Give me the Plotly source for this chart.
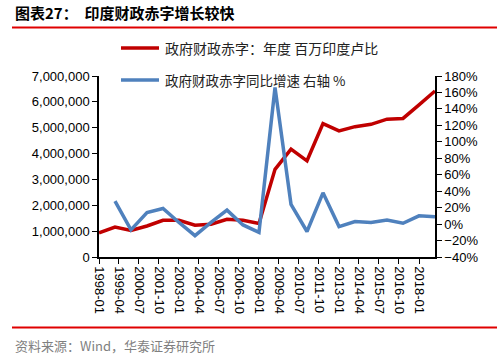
import plotly.graph_objects as go

years = [f"{y}-01-01" for y in range(1998, 2020)]
deficit = [930000, 1160000, 1030000, 1200000, 1420000, 1420000, 1230000, 1270000,
           1460000, 1420000, 1300000, 3390000, 4170000, 3720000, 5160000, 4880000,
           5040000, 5130000, 5330000, 5360000, 5880000, 6420000]
growth = [None, 28, -7, 14, 19, 2, -14, 2, 17, -1, -10, 166, 24, -9, 38, -3,
          3, 2, 5, 1, 10, 9]

name_red = "政府财政赤字：年度 百万印度卢比"
name_blue = "政府财政赤字同比增速 右轴 %"

RED = "#C00000"
BLUE = "#4F81BD"
fnum = "Liberation Sans, Arial, sans-serif"
fcjk = "Noto Sans CJK SC, sans-serif"

fig = go.Figure()
fig.add_trace(go.Scatter(x=years, y=deficit, mode="lines", name=name_red,
                         line=dict(color=RED, width=3.5), yaxis="y"))
fig.add_trace(go.Scatter(x=years, y=growth, mode="lines", name=name_blue,
                         line=dict(color=BLUE, width=3.5), yaxis="y2"))

fig.update_layout(
    width=502, height=355,
    margin=dict(l=99, r=67, t=76, b=98),
    paper_bgcolor="white", plot_bgcolor="white",
    showlegend=False,
    xaxis=dict(type="date", range=["1998-01-01", "2019-01-01"], automargin=False,
               tick0="1998-01-01", dtick="M15", tickformat="%Y-%m",
               tickangle=90, showgrid=False, zeroline=False,
               showline=True, linecolor="black", linewidth=1.5,
               ticks="outside", ticklen=5, tickcolor="black",
               tickfont=dict(family=fnum, size=13, color="black")),
    yaxis=dict(range=[0, 7000000], dtick=1000000, tickformat=",", automargin=False,
               showgrid=False, zeroline=False,
               showline=True, linecolor="black", linewidth=1.5,
               ticks="outside", ticklen=5, tickcolor="black",
               tickfont=dict(family=fnum, size=13, color="black")),
    yaxis2=dict(range=[-40, 180], dtick=20, ticksuffix="%", overlaying="y",
                side="right", showgrid=False, zeroline=False, automargin=False,
                showline=True, linecolor="black", linewidth=1.5,
                ticks="outside", ticklen=5, tickcolor="black",
                tickfont=dict(family=fnum, size=13, color="black")),
)

PW, PH = 336, 180.7
shapes = [
    dict(type="line", xref="paper", yref="paper", x0=-87/PW, x1=398/PW,
         y0=1 + (76 - 27.5) / PH, y1=1 + (76 - 27.5) / PH,
         line=dict(color="#E00000", width=2)),
    dict(type="line", xref="paper", yref="paper", x0=-87/PW, x1=398/PW,
         y0=-(327 - 256.7) / PH, y1=-(327 - 256.7) / PH,
         line=dict(color="#E00000", width=2)),
    dict(type="line", xref="paper", yref="paper", x0=(121 - 99) / PW, x1=(159 - 99) / PW,
         y0=1 + (76 - 48) / PH, y1=1 + (76 - 48) / PH,
         line=dict(color=RED, width=3.5)),
    dict(type="line", xref="paper", yref="paper", x0=(121 - 99) / PW, x1=(159 - 99) / PW,
         y0=1 - (80 - 76) / PH, y1=1 - (80 - 76) / PH,
         line=dict(color=BLUE, width=3.5)),
]
fig.update_layout(shapes=shapes)

ann = [
    dict(text="<b>图表27：  印度财政赤字增长较快</b>", xref="paper", yref="paper",
         x=-86/PW, y=1 + (76 - 13) / PH, xanchor="left", yanchor="middle",
         showarrow=False, font=dict(family=fcjk, size=15, color="black")),
    dict(text=name_red, xref="paper", yref="paper",
         x=(163 - 99) / PW, y=1 + (76 - 48) / PH, xanchor="left", yanchor="middle",
         showarrow=False, font=dict(family=fcjk, size=14, color="#222")),
    dict(text=name_blue, xref="paper", yref="paper",
         x=(163 - 99) / PW, y=1 - (80 - 76) / PH, xanchor="left", yanchor="middle",
         showarrow=False, font=dict(family=fcjk, size=13.5, color="#222")),
    dict(text="资料来源：Wind，华泰证券研究所", xref="paper", yref="paper",
         x=-86/PW, y=-(345 - 256.7) / PH, xanchor="left", yanchor="middle",
         showarrow=False, font=dict(family=fcjk, size=13, color="#7f7f7f")),
]
fig.update_layout(annotations=ann)

fig.write_html("out.html", config={"displayModeBar": False})
with open("out.html", encoding="utf-8") as f:
    html = f.read()
html = html.replace("<body>", '<body style="margin:0;padding:0;">', 1)
with open("out.html", "w", encoding="utf-8") as f:
    f.write(html)
